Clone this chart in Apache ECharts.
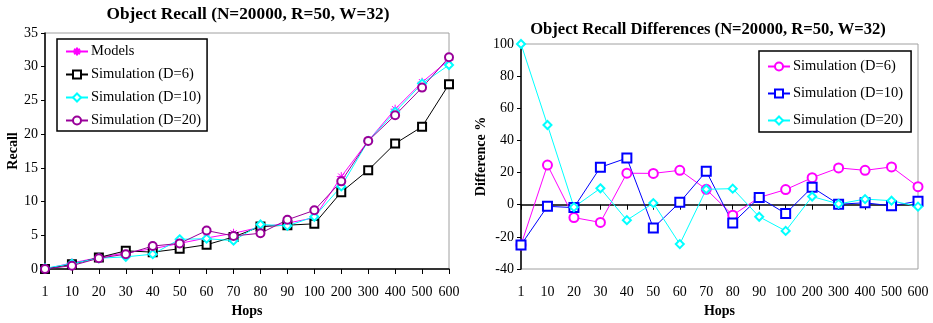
<!DOCTYPE html>
<html><head><meta charset="utf-8">
<script src="https://cdn.jsdelivr.net/npm/echarts@6/dist/echarts.min.js"></script>
<style>html,body{margin:0;padding:0;background:#fff}#c{width:933px;height:323px}</style>
</head><body><div id="c"></div>
<script>
const hops = ['1','10','20','30','40','50','60','70','80','90','100','200','300','400','500','600'];
const recallModels = [0, 0.9, 1.7, 2.4, 3.0, 3.8, 4.6, 5.3, 6.2, 6.8, 7.6, 13.7, 19.0, 23.7, 27.7, 31.0];
const recallD6     = [0, 0.7, 1.7, 2.7, 2.5, 3.0, 3.6, 4.75, 6.3, 6.5, 6.7, 11.4, 14.65, 18.6, 21.1, 27.4];
const recallD10    = [0.1, 0.8, 1.6, 1.8, 2.2, 4.4, 4.5, 4.2, 6.6, 6.4, 7.75, 12.25, 19.0, 23.3, 27.5, 30.25];
const recallD20    = [0, 0.5, 1.6, 2.2, 3.4, 3.8, 5.7, 4.9, 5.3, 7.3, 8.7, 13.0, 19.0, 22.8, 26.9, 31.4];
const diffD6  = [-25, 24.7, -8, -11, 19.6, 19.5, 21.4, 9.6, -6.5, 4.5, 9.4, 16.8, 22.9, 21.4, 23.5, 11.2];
const diffD10 = [-25, -1, -1.8, 23.3, 29, -14.5, 1.5, 20.8, -11.4, 4.5, -5.5, 10.8, 0.3, 1.2, -0.7, 2.2];
const diffD20 = [100, 49.6, -1.5, 10.2, -9.6, 1, -24.5, 9.6, 10, -7.5, -16.3, 5.1, 0.5, 3.5, 2.5, -1.2];

const FONT = '"Liberation Serif", "DejaVu Serif", serif';
const asterisk = 'path://M5 0V10M0 5H10M1.5 1.5L8.5 8.5M8.5 1.5L1.5 8.5';

function xAxis(gi){
  return {type:'category', gridIndex:gi, data:hops, boundaryGap:false,
    axisLine:{lineStyle:{color:'#000', width:1.5}},
    axisTick:{alignWithLabel:true, length:5, lineStyle:{color:'#000'}},
    axisLabel:{color:'#000', fontFamily:FONT, fontSize:14, margin:16, interval:0},
    name:'Hops', nameLocation:'middle', nameGap:35,
    nameTextStyle:{color:'#000', fontFamily:FONT, fontSize:14, fontWeight:'bold'}};
}
function yAxis(gi, min, max, interval, name, gap){
  return {type:'value', gridIndex:gi, min, max, interval,
    axisLine:{show:true, lineStyle:{color:'#000', width:1.5}},
    axisTick:{show:true, length:4, lineStyle:{color:'#000'}},
    splitLine:{show:false},
    axisLabel:{color:'#000', fontFamily:FONT, fontSize:14, margin:7},
    name, nameLocation:'middle', nameGap:gap,
    nameTextStyle:{color:'#000', fontFamily:FONT, fontSize:14, fontWeight:'bold'}};
}
function line(name, data, color, symbol, size, xi){
  return {name, type:'line', data, xAxisIndex:xi, yAxisIndex:xi,
    symbol, symbolSize:size, showAllSymbol:true,
    lineStyle:{color, width:1},
    itemStyle: symbol.startsWith('path') ? {color:'none', borderColor:color, borderWidth:1} : {color, borderColor:color, borderWidth:1},
    emphasis:{disabled:true}, animation:false};
}

const chart = echarts.init(document.getElementById('c'), null, {renderer:'canvas'});
chart.setOption({
  backgroundColor:'#fff',
  animation:false,
  title:[
    {text:'Object Recall (N=20000, R=50, W=32)', left:243, top:1, textAlign:'center',
     textStyle:{fontFamily:FONT, fontSize:17.3, fontWeight:'bold', color:'#000'}},
    {text:'Object Recall Differences (N=20000, R=50, W=32)', left:703, top:16, textAlign:'center',
     textStyle:{fontFamily:FONT, fontSize:16.6, fontWeight:'bold', color:'#000'}}
  ],
  grid:[
    {left:45, right:484, top:33, bottom:52, show:true, borderColor:'#a0a0a0', borderWidth:1, backgroundColor:'transparent'},
    {left:521, right:15, top:44, bottom:50, show:true, borderColor:'#a0a0a0', borderWidth:1, backgroundColor:'transparent'}
  ],
  xAxis:[xAxis(0), xAxis(1)],
  yAxis:[yAxis(0, 0, 35, 5, 'Recall', 25), yAxis(1, -40, 100, 20, 'Difference %', 33)],
  legend:[
    {data:['Models','Simulation (D=6)','Simulation (D=10)','Simulation (D=20)'],
     left:57, top:39, orient:'vertical', itemGap:8, itemWidth:22, itemHeight:10,
     padding:[5,6,3,8], borderColor:'#000', borderWidth:1.5, backgroundColor:'#fff',
     textStyle:{fontFamily:FONT, fontSize:14.5, color:'#000', padding:[0,0,0,-2]}},
    {data:['Simulation (D=6) ','Simulation (D=10) ','Simulation (D=20) '],
     formatter: n => n.trim(),
     left:759, top:51, orient:'vertical', itemGap:12, itemWidth:22, itemHeight:10,
     padding:[8,8,4,8], borderColor:'#000', borderWidth:1.5, backgroundColor:'#fff',
     textStyle:{fontFamily:FONT, fontSize:14.5, color:'#000', padding:[0,0,0,-2]}}
  ],
  series:[
    line('Models', recallModels, '#ff00ff', asterisk, 9, 0),
    line('Simulation (D=6)', recallD6, '#000000', 'emptyRect', 8, 0),
    line('Simulation (D=10)', recallD10, '#00ffff', 'emptyDiamond', 8, 0),
    line('Simulation (D=20)', recallD20, '#990099', 'emptyCircle', 8, 0),
    line('Simulation (D=6) ', diffD6, '#ff00ff', 'emptyCircle', 9, 1),
    line('Simulation (D=10) ', diffD10, '#0000ff', 'emptyRect', 9, 1),
    line('Simulation (D=20) ', diffD20, '#00ffff', 'emptyDiamond', 8, 1)
  ]
});
</script></body></html>
